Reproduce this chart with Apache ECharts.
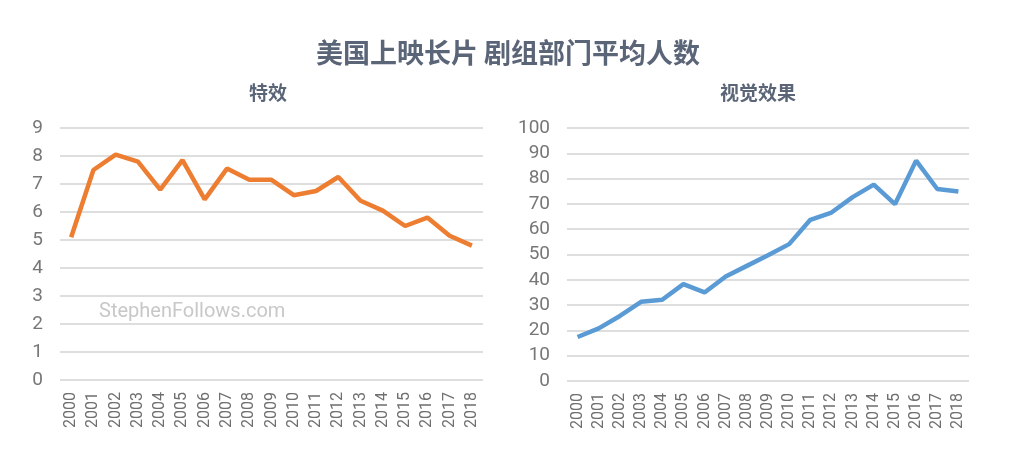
<!DOCTYPE html>
<html>
<head>
<meta charset="UTF-8">
<title>美国上映长片 剧组部门平均人数</title>
<script src="https://cdn.jsdelivr.net/npm/echarts@6/dist/echarts.min.js"></script>
<style>
html, body { margin: 0; padding: 0; background: #fff; }
#container { width: 1024px; height: 465px; }
</style>
</head>
<body>
<div id="container"></div>
<script type="text/javascript">
var years = ['2000', '2001', '2002', '2003', '2004', '2005', '2006', '2007', '2008', '2009',
	'2010', '2011', '2012', '2013', '2014', '2015', '2016', '2017', '2018'];
// 特效
var specialEffects = [5.1, 7.5, 8.05, 7.8, 6.8, 7.85, 6.45, 7.55, 7.15, 7.15,
	6.6, 6.75, 7.25, 6.4, 6.05, 5.5, 5.8, 5.15, 4.8];
// 视觉效果
var visualEffects = [17.4, 20.8, 25.7, 31.3, 32.1, 38.3, 35.0, 41.3, 45.5, 49.7,
	54.1, 63.7, 66.6, 72.7, 77.6, 69.9, 87.1, 75.9, 74.9];

var dom = document.getElementById('container');
var myChart = echarts.init(dom);

var gridLine = { show: true, lineStyle: { color: '#dedede', width: 2 } };
var yLabel = { color: '#777777', fontSize: 19, fontFamily: 'Roboto', margin: 17 };
var xLabel = { color: '#6f6f6f', fontSize: 16, fontFamily: 'Roboto', rotate: 90, margin: 12, interval: 0 };

var option = {
	animation: false,
	title: [{
		text: '美国上映长片 剧组部门平均人数',
		left: 503,
		top: 34,
		textAlign: 'center',
		textStyle: { color: '#5b6578', fontSize: 27, fontWeight: 'bold', fontFamily: 'Noto Sans CJK SC' }
	}, {
		text: '特效',
		left: 263,
		top: 78,
		textAlign: 'center',
		textStyle: { color: '#5b6578', fontSize: 19, fontWeight: 'bold', fontFamily: 'Noto Sans CJK SC' }
	}, {
		text: '视觉效果',
		left: 753,
		top: 78,
		textAlign: 'center',
		textStyle: { color: '#5b6578', fontSize: 19, fontWeight: 'bold', fontFamily: 'Noto Sans CJK SC' }
	}],
	graphic: [{
		type: 'text',
		left: 99,
		top: 302,
		style: { text: 'StephenFollows.com', fill: '#c8c8c8', fontSize: 20, fontFamily: 'Roboto' }
	}],
	grid: [
		{ left: 60, right: 541, top: 128, bottom: 85 },
		{ left: 567, right: 55, top: 128, bottom: 84 }
	],
	xAxis: [{
		gridIndex: 0,
		type: 'category',
		data: years,
		axisLine: { show: false },
		axisTick: { show: false },
		axisLabel: xLabel
	}, {
		gridIndex: 1,
		type: 'category',
		data: years,
		axisLine: { show: false },
		axisTick: { show: false },
		axisLabel: xLabel
	}],
	yAxis: [{
		gridIndex: 0,
		type: 'value',
		min: 0,
		max: 9,
		interval: 1,
		axisLine: { show: false },
		axisTick: { show: false },
		splitLine: gridLine,
		axisLabel: yLabel
	}, {
		gridIndex: 1,
		type: 'value',
		min: 0,
		max: 100,
		interval: 10,
		axisLine: { show: false },
		axisTick: { show: false },
		splitLine: gridLine,
		axisLabel: yLabel
	}],
	series: [{
		name: '特效',
		type: 'line',
		xAxisIndex: 0,
		yAxisIndex: 0,
		showSymbol: false,
		lineStyle: { color: '#ed7d31', width: 4.5 },
		itemStyle: { color: '#ed7d31' },
		data: specialEffects
	}, {
		name: '视觉效果',
		type: 'line',
		xAxisIndex: 1,
		yAxisIndex: 1,
		showSymbol: false,
		lineStyle: { color: '#5b9bd5', width: 4.5 },
		itemStyle: { color: '#5b9bd5' },
		data: visualEffects
	}]
};

myChart.setOption(option);
</script>
</body>
</html>
